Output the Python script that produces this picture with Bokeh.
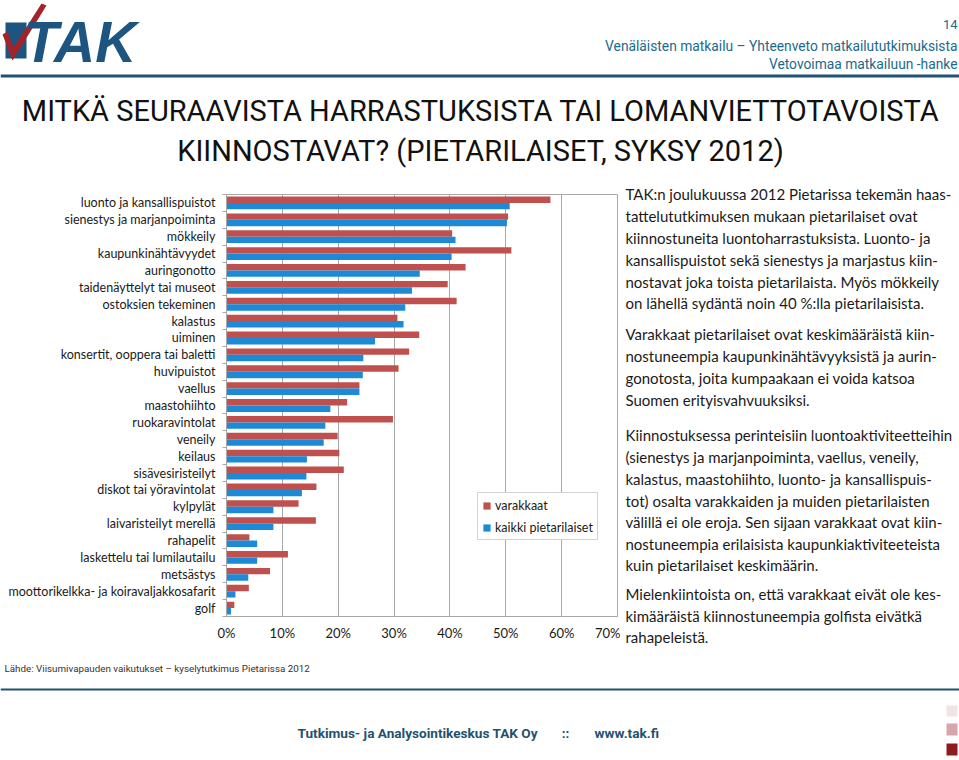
from bokeh.plotting import figure
from bokeh.layouts import column, row
from bokeh.models import (Range1d, Label, BoxAnnotation, PolyAnnotation,
                          Legend, LegendItem, FixedTicker, PrintfTickFormatter,
                          ColumnDataSource)
from bokeh.embed import file_html
from bokeh.resources import INLINE

# ---------------- data ----------------
categories = [
    "luonto ja kansallispuistot", "sienestys ja marjanpoiminta", "mökkeily",
    "kaupunkinähtävyydet", "auringonotto", "taidenäyttelyt tai museot",
    "ostoksien tekeminen", "kalastus", "uiminen", "konsertit, ooppera tai baletti",
    "huvipuistot", "vaellus", "maastohiihto", "ruokaravintolat", "veneily",
    "keilaus", "sisävesiristeilyt", "diskot tai yöravintolat", "kylpylät",
    "laivaristeilyt merellä", "rahapelit", "laskettelu tai lumilautailu",
    "metsästys", "moottorikelkka- ja koiravaljakkosafarit", "golf",
]
varakkaat = [58.0, 50.4, 40.4, 51.0, 42.8, 39.6, 41.2, 30.6, 34.5, 32.7,
             30.8, 23.8, 21.6, 29.8, 19.9, 20.2, 21.0, 16.1, 12.9, 16.0,
             4.1, 11.0, 7.8, 4.0, 1.4]
kaikki = [50.7, 50.2, 41.0, 40.3, 34.6, 33.2, 32.0, 31.7, 26.6, 24.5,
          24.4, 23.8, 18.6, 17.7, 17.4, 14.4, 14.3, 13.5, 8.4, 8.4,
          5.5, 5.5, 3.9, 1.6, 0.8]
series_names = ["varakkaat", "kaikki pietarilaiset"]
x_ticks = [0, 10, 20, 30, 40, 50, 60, 70]

title_lines = ["MITKÄ SEURAAVISTA HARRASTUKSISTA TAI LOMANVIETTOTAVOISTA",
               "KIINNOSTAVAT? (PIETARILAISET, SYKSY 2012)"]
header_lines = ["14", "Venäläisten matkailu – Yhteenveto matkailututkimuksista",
                "Vetovoimaa matkailuun -hanke"]
source_text = "Lähde: Viisumivapauden vaikutukset – kyselytutkimus Pietarissa 2012"
footer_parts = ["Tutkimus- ja Analysointikeskus TAK Oy", "::", "www.tak.fi"]
paragraphs = [
    ["TAK:n joulukuussa 2012 Pietarissa tekemän haas-",
     "tattelututkimuksen mukaan pietarilaiset ovat",
     "kiinnostuneita luontoharrastuksista. Luonto- ja",
     "kansallispuistot sekä sienestys ja marjastus kiin-",
     "nostavat joka toista pietarilaista. Myös mökkeily",
     "on lähellä sydäntä noin 40 %:lla pietarilaisista."],
    ["Varakkaat pietarilaiset ovat keskimääräistä kiin-",
     "nostuneempia kaupunkinähtävyyksistä ja aurin-",
     "gonotosta, joita kumpaakaan ei voida katsoa",
     "Suomen erityisvahvuuksiksi."],
    ["Kiinnostuksessa perinteisiin luontoaktiviteetteihin",
     "(sienestys ja marjanpoiminta, vaellus, veneily,",
     "kalastus, maastohiihto, luonto- ja kansallispuis-",
     "tot) osalta varakkaiden ja muiden pietarilaisten",
     "välillä ei ole eroja. Sen sijaan varakkaat ovat kiin-",
     "nostuneempia erilaisista kaupunkiaktiviteeteista",
     "kuin pietarilaiset keskimäärin."],
    ["Mielenkiintoista on, että varakkaat eivät ole kes-",
     "kimääräistä kiinnostuneempia golfista eivätkä",
     "rahapeleistä."],
]

# ---------------- styling ----------------
RED = "#C0504D"
BLUE = "#1C8AD6"
TEAL = "#1F5270"
HEAD = "#1A6A8C"
GRID = "#A8A8A8"
BODY_FONT = "Lato"
HEAD_FONT = "Roboto"

PAGE_W = 959
TOP_H, MID_H, BOT_H = 180, 470, 110
CHART_W = 620
FL, FR, FT, FB = 226, 617, 194, 616   # chart frame edges, page pixels


def canvas(w, h, x0, y0):
    """A figure whose frame covers its whole canvas, in page pixel units."""
    f = figure(width=w, height=h, output_backend="svg", toolbar_location=None,
               x_range=Range1d(x0, x0 + w), y_range=Range1d(y0 + h, y0),
               x_axis_type=None, y_axis_type=None, min_border=0)
    f.outline_line_color = None
    f.grid.visible = False
    f.frame_align = False
    return f


def lab(f, x, y, text, size, font=BODY_FONT, color="#1a1a1a", align="left",
        style="normal"):
    f.add_layout(Label(x=x, y=y, text=text, text_font=font, text_font_size=size,
                       text_color=color, text_align=align, text_baseline="middle",
                       text_font_style=style))


def box(f, l, r, t, b, color):
    f.add_layout(BoxAnnotation(left=l, right=r, top=t, bottom=b,
                               fill_color=color, fill_alpha=1, line_color=None))


# ---------------- top: header + title ----------------
top = canvas(PAGE_W, TOP_H, 0, 0)
lab(top, 957, 24, header_lines[0], "13px", HEAD_FONT, HEAD, "right")
lab(top, 957, 45, header_lines[1], "13.8px", HEAD_FONT, HEAD, "right")
lab(top, 957, 63, header_lines[2], "13.8px", HEAD_FONT, HEAD, "right")
box(top, 0, PAGE_W, 74, 77, TEAL)
box(top, 5, 26, 22, 58, "#1D5580")
top.add_layout(PolyAnnotation(xs=[2, 7, 13, 41, 46, 12], ys=[34, 31, 47, 3, 5, 60],
                              fill_color="#A3232B", fill_alpha=1, line_color=None))
lab(top, 23, 41, "TAK", "57px", "Liberation Sans", "#1D5580", "left", "bold italic")
lab(top, 480, 110, title_lines[0], "29px", HEAD_FONT, "#111111", "center")
lab(top, 480, 150, title_lines[1], "29px", HEAD_FONT, "#111111", "center")

# ---------------- chart ----------------
n = len(categories)
centers = [i + 0.5 for i in range(n)]
src = ColumnDataSource(dict(
    yv=[c - 0.19 for c in centers], yk=[c + 0.19 for c in centers],
    v=varakkaat, k=kaikki))

p = figure(width=CHART_W, height=MID_H, output_backend="svg", toolbar_location=None,
           y_range=Range1d(n, 0), x_range=Range1d(0, 70),
           min_border_left=FL, min_border_right=CHART_W - FR,
           min_border_top=FT - TOP_H, min_border_bottom=TOP_H + MID_H - FB)
p.frame_align = False

r_v = p.hbar(y="yv", right="v", left=0, height=0.38,
             source=src, fill_color=RED, line_color=None)
r_k = p.hbar(y="yk", right="k", left=0, height=0.38,
             source=src, fill_color=BLUE, line_color=None)

p.outline_line_color = GRID
p.ygrid.grid_line_color = None
p.xgrid.grid_line_color = GRID
p.xgrid.grid_line_width = 1
p.xaxis.ticker = FixedTicker(ticks=x_ticks)
p.xaxis.formatter = PrintfTickFormatter(format="%d%%")
p.yaxis.ticker = FixedTicker(ticks=centers, minor_ticks=list(range(n + 1)))
p.yaxis.major_label_overrides = {c: name for c, name in zip(centers, categories)}
for ax in (p.xaxis, p.yaxis):
    ax.axis_line_color = GRID
    ax.major_tick_line_color = None
    ax.major_label_text_font = BODY_FONT
    ax.major_label_text_color = "#1a1a1a"
p.xaxis.minor_tick_line_color = None
p.xaxis.major_tick_in = 0
p.xaxis.major_tick_out = 0
p.xaxis.major_label_standoff = 8
p.xaxis.major_label_text_font_size = "13px"
p.yaxis.minor_tick_line_color = GRID
p.yaxis.minor_tick_in = 0
p.yaxis.minor_tick_out = 4
p.yaxis.major_tick_in = 0
p.yaxis.major_tick_out = 0
p.yaxis.major_label_standoff = 7
p.yaxis.major_label_text_font_size = "12.5px"

legend = Legend(items=[LegendItem(label=series_names[0], renderers=[r_v]),
                       LegendItem(label=series_names[1], renderers=[r_k])],
                location=(477 - FL, FB - 540), orientation="vertical",
                border_line_color=GRID, border_line_width=1,
                background_fill_color="white", background_fill_alpha=1,
                label_text_font=BODY_FONT, label_text_font_size="12.5px",
                label_text_color="#1a1a1a",
                glyph_width=9, glyph_height=9, label_standoff=4,
                label_height=16, spacing=6, padding=4, margin=0)
p.add_layout(legend, "center")

# ---------------- right text ----------------
txt = canvas(PAGE_W - CHART_W, MID_H, CHART_W, TOP_H)
para_y = [[193, 215, 237, 259, 281, 302], [333, 355, 377, 399],
          [434, 456, 478, 500, 521, 543, 564], [593, 615, 636]]
for lines, ys in zip(paragraphs, para_y):
    for t, y in zip(lines, ys):
        lab(txt, 625, y, t, "15px")

# ---------------- bottom: source + footer ----------------
bot = canvas(PAGE_W, BOT_H, 0, TOP_H + MID_H)
lab(bot, 4, 668, source_text, "9.8px", HEAD_FONT, "#333333")
box(bot, 0, PAGE_W, 688, 690, TEAL)
lab(bot, 297, 732, footer_parts[0], "13.6px", HEAD_FONT, TEAL, "left", "bold")
lab(bot, 565, 732, footer_parts[1], "13.6px", HEAD_FONT, TEAL, "center", "bold")
lab(bot, 594, 732, footer_parts[2], "13.6px", HEAD_FONT, TEAL, "left", "bold")
box(bot, 946, 957, 705, 716, "#F2E4E5")
box(bot, 946, 957, 723, 735, "#D5A7AA")
box(bot, 946, 957, 743, 755, "#8E1B1E")

page = column(top, row(p, txt, spacing=0), bot, spacing=0)
open("out.html", "w").write(file_html(page, INLINE))
